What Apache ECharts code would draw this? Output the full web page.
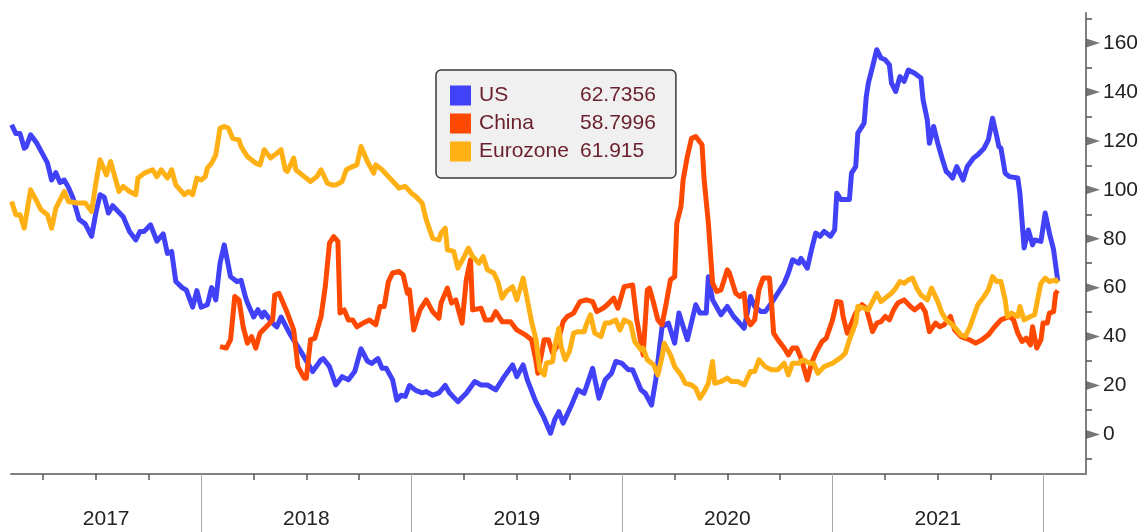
<!DOCTYPE html>
<html>
<head>
<meta charset="utf-8">
<script src="https://cdn.jsdelivr.net/npm/echarts@6/dist/echarts.min.js"></script>
<style>
  html, body { margin: 0; padding: 0; background: #fff; }
  #container { width: 1147px; height: 532px; }
</style>
</head>
<body>
<div id="container"></div>
<script>
var dom = document.getElementById("container");
var myChart = echarts.init(dom);

// x in decimal years, y index value
var seriesNames = ['US', 'China', 'Eurozone'];
var legendValues = ['62.7356', '58.7996', '61.915'];

var usData = [
    [2017.10, 126.6], [2017.12, 123], [2017.14, 123], [2017.16, 117], [2017.17, 117.7], [2017.19, 122.5], [2017.22, 119],
    [2017.27, 111], [2017.29, 104], [2017.31, 107], [2017.33, 103], [2017.35, 104], [2017.37, 101], [2017.39, 97],
    [2017.42, 88], [2017.45, 86], [2017.48, 81], [2017.50, 90.5], [2017.52, 98], [2017.54, 97], [2017.56, 90.5],
    [2017.58, 93.5], [2017.63, 89], [2017.66, 83], [2017.69, 79.5], [2017.71, 83], [2017.73, 83], [2017.76, 85.7],
    [2017.79, 79], [2017.82, 82], [2017.84, 74], [2017.86, 74.8], [2017.88, 62.5], [2017.91, 60], [2017.93, 59],
    [2017.96, 52], [2017.98, 58.8], [2018.00, 52], [2018.03, 53], [2018.05, 60], [2018.07, 55], [2018.09, 70],
    [2018.11, 77.5], [2018.14, 64.5], [2018.17, 62.5], [2018.19, 63], [2018.21, 56.4], [2018.22, 53.8], [2018.25, 48],
    [2018.27, 51], [2018.29, 48], [2018.30, 50], [2018.34, 45.5], [2018.36, 44], [2018.38, 48], [2018.42, 41.4],
    [2018.48, 33], [2018.53, 25.7], [2018.57, 30.5], [2018.58, 31], [2018.61, 27.7], [2018.64, 20.2], [2018.67, 23.6],
    [2018.70, 22.3], [2018.73, 25.7], [2018.76, 35], [2018.79, 30], [2018.81, 29], [2018.84, 31], [2018.86, 27],
    [2018.88, 27], [2018.91, 22.3], [2018.93, 14], [2018.95, 16], [2018.97, 15.5], [2018.99, 20], [2019.02, 18],
    [2019.05, 17], [2019.07, 17.5], [2019.10, 16], [2019.13, 17], [2019.16, 20], [2019.18, 17], [2019.22, 13.4],
    [2019.26, 16.8], [2019.30, 21.6], [2019.33, 20.2], [2019.36, 20.2], [2019.40, 18.2], [2019.44, 23.6], [2019.48, 28.4],
    [2019.50, 23.6], [2019.53, 28.4], [2019.55, 22.3], [2019.59, 13.4], [2019.63, 6.6], [2019.66, 0.5], [2019.68, 6],
    [2019.70, 9.3], [2019.72, 4.6], [2019.76, 12], [2019.79, 18.2], [2019.82, 16.8], [2019.86, 27], [2019.89, 14.8],
    [2019.92, 22.3], [2019.95, 25], [2019.97, 29.8], [2020.00, 29], [2020.03, 26.4], [2020.05, 26.4], [2020.09, 18.2],
    [2020.11, 16.8], [2020.14, 12], [2020.16, 22.3], [2020.19, 44], [2020.22, 45.5], [2020.25, 37.3], [2020.27, 49.6],
    [2020.31, 38.7], [2020.35, 53], [2020.37, 49.6], [2020.40, 49.6], [2020.41, 64.5], [2020.43, 55], [2020.47, 48.9],
    [2020.50, 52.3], [2020.53, 48.2], [2020.58, 43.4], [2020.61, 56.4], [2020.63, 52.3], [2020.66, 50.2], [2020.68, 50.2],
    [2020.71, 53.7], [2020.73, 56.4], [2020.77, 61.8], [2020.79, 66], [2020.81, 71.4], [2020.84, 70], [2020.85, 72],
    [2020.88, 68], [2020.90, 75.5], [2020.92, 82.3], [2020.94, 81], [2020.96, 83], [2020.99, 81], [2021.01, 83.6],
    [2021.02, 98.6], [2021.04, 96], [2021.08, 96], [2021.09, 106.8], [2021.11, 109.5], [2021.12, 123.2], [2021.15, 127.3],
    [2021.16, 138], [2021.17, 143.6], [2021.19, 150.4], [2021.21, 157.3], [2021.23, 153.9], [2021.25, 153.2], [2021.27, 151.1],
    [2021.28, 143.6], [2021.30, 140.2], [2021.32, 146.3], [2021.34, 144.3], [2021.36, 149], [2021.39, 147.7], [2021.42, 145.7],
    [2021.43, 136.8], [2021.45, 128.6], [2021.46, 119], [2021.48, 125.9], [2021.50, 119], [2021.52, 113], [2021.54, 107.5],
    [2021.55, 106.8], [2021.57, 104.8], [2021.59, 109.5], [2021.62, 104], [2021.64, 109.5], [2021.67, 113], [2021.69, 114.3],
    [2021.72, 117], [2021.74, 120.4], [2021.76, 129.3], [2021.78, 121.8], [2021.79, 117.7], [2021.80, 117], [2021.82, 106.8],
    [2021.84, 105.4], [2021.88, 104.8], [2021.89, 98.6], [2021.91, 76.2], [2021.93, 83.6], [2021.95, 77.5], [2021.96, 79.5],
    [2021.99, 78.9], [2022.01, 90.5], [2022.03, 82.3], [2022.05, 75.5], [2022.07, 62.7]
];

var chinaData = [
    [2018.09, 35.9], [2018.12, 35.3], [2018.14, 38.7], [2018.16, 56.4], [2018.18, 55], [2018.20, 44], [2018.22, 37.3],
    [2018.24, 40], [2018.26, 35.3], [2018.28, 41.4], [2018.31, 44], [2018.34, 46.8], [2018.35, 57], [2018.37, 57.7],
    [2018.39, 53.7], [2018.41, 49.6], [2018.44, 42.7], [2018.46, 27.7], [2018.49, 23], [2018.50, 23], [2018.52, 38.7],
    [2018.54, 39.3], [2018.57, 48.2], [2018.59, 60.4], [2018.61, 78.2], [2018.63, 80.9], [2018.65, 78.9], [2018.66, 49.6],
    [2018.68, 50.9], [2018.70, 46.8], [2018.72, 46.8], [2018.74, 44], [2018.77, 45.5], [2018.80, 46.8], [2018.83, 44.8],
    [2018.85, 52.3], [2018.87, 52.3], [2018.89, 62.5], [2018.91, 66], [2018.94, 66.6], [2018.96, 65.2], [2018.98, 57.7],
    [2018.99, 59.1], [2019.01, 42.7], [2019.04, 50.9], [2019.07, 55], [2019.10, 50.2], [2019.13, 47.5], [2019.14, 53.7],
    [2019.17, 59.8], [2019.19, 53.7], [2019.21, 55], [2019.24, 45.5], [2019.26, 63.2], [2019.28, 71.4], [2019.29, 50.9],
    [2019.33, 51.6], [2019.35, 46.8], [2019.38, 46.8], [2019.40, 50.2], [2019.43, 46.1], [2019.47, 46.1], [2019.50, 42.7],
    [2019.54, 40.7], [2019.57, 38.7], [2019.59, 30.5], [2019.60, 25], [2019.63, 38.7], [2019.65, 38.7], [2019.67, 33.2],
    [2019.69, 35.9], [2019.72, 46.1], [2019.74, 48.2], [2019.77, 49.6], [2019.80, 54.3], [2019.83, 55], [2019.86, 54.3],
    [2019.88, 50.2], [2019.91, 51.6], [2019.93, 53], [2019.96, 55.7], [2019.98, 51.6], [2020.01, 60.4], [2020.05, 61.1],
    [2020.07, 46.8], [2020.09, 37.3], [2020.10, 32.5], [2020.12, 59.1], [2020.13, 59.8], [2020.15, 53.7], [2020.17, 46.8],
    [2020.19, 44.8], [2020.21, 53.7], [2020.23, 63.2], [2020.25, 64.5], [2020.26, 86.4], [2020.28, 93.2], [2020.29, 104],
    [2020.31, 113.6], [2020.33, 121.1], [2020.35, 121.8], [2020.38, 118.4], [2020.39, 104], [2020.41, 86.4], [2020.43, 61.8],
    [2020.45, 58.4], [2020.47, 59.1], [2020.50, 67.3], [2020.51, 66], [2020.54, 57.7], [2020.56, 56.4], [2020.58, 57.7],
    [2020.59, 48.2], [2020.61, 44.8], [2020.63, 46.8], [2020.65, 59.1], [2020.67, 63.9], [2020.70, 63.9], [2020.71, 53.7],
    [2020.72, 41.4], [2020.74, 38.7], [2020.77, 35.3], [2020.79, 32.5], [2020.81, 35.3], [2020.83, 35.3], [2020.85, 31.2],
    [2020.88, 22.3], [2020.90, 29.1], [2020.92, 33.2], [2020.95, 38], [2020.97, 39.3], [2021.00, 46.8], [2021.02, 54.3],
    [2021.04, 54], [2021.05, 48.2], [2021.07, 41.4], [2021.09, 45.5], [2021.11, 49.6], [2021.14, 53], [2021.16, 51.6],
    [2021.19, 42], [2021.21, 45.5], [2021.23, 46.1], [2021.25, 48.2], [2021.27, 46.8], [2021.29, 50.9], [2021.31, 53.7],
    [2021.34, 55], [2021.37, 52.3], [2021.39, 50.9], [2021.42, 53], [2021.44, 50.2], [2021.46, 42], [2021.49, 45.5],
    [2021.51, 44], [2021.53, 44.8], [2021.56, 48.2], [2021.58, 42.7], [2021.61, 40], [2021.65, 38.7], [2021.68, 37.3],
    [2021.71, 38.7], [2021.74, 40.7], [2021.77, 44], [2021.80, 46.8], [2021.84, 48.2], [2021.86, 46.8], [2021.88, 41.4],
    [2021.90, 38], [2021.92, 39.3], [2021.94, 36.6], [2021.95, 44], [2021.97, 35.3], [2021.99, 38.7], [2022.00, 45.5],
    [2022.02, 45.5], [2022.03, 49.6], [2022.05, 50.2], [2022.06, 57.7], [2022.07, 58.8]
];

var euroData = [
    [2017.10, 95.2], [2017.12, 89.8], [2017.14, 89.8], [2017.16, 84.3], [2017.19, 100], [2017.22, 95.2], [2017.24, 91.8],
    [2017.27, 89.8], [2017.29, 84.3], [2017.31, 92.5], [2017.35, 99.3], [2017.37, 95.2], [2017.41, 94.6], [2017.45, 94.6],
    [2017.48, 91.1], [2017.50, 102.7], [2017.52, 112.3], [2017.55, 106.1], [2017.57, 111.6], [2017.59, 105.4], [2017.61, 99.3],
    [2017.63, 101.4], [2017.66, 99.3], [2017.69, 98], [2017.70, 104.8], [2017.73, 106.8], [2017.77, 108.2], [2017.79, 105.4],
    [2017.81, 108.2], [2017.84, 104.8], [2017.86, 108.2], [2017.88, 102], [2017.92, 98], [2017.94, 99.3], [2017.96, 98],
    [2017.98, 104.8], [2018.00, 104], [2018.02, 105.4], [2018.03, 108.9], [2018.05, 110.9], [2018.07, 114.3], [2018.09, 125.2],
    [2018.11, 125.9], [2018.13, 125.2], [2018.15, 121.1], [2018.18, 120.4], [2018.19, 117.7], [2018.22, 113.6], [2018.26, 110.9],
    [2018.28, 110.2], [2018.30, 116.4], [2018.33, 113], [2018.35, 114.3], [2018.38, 116.4], [2018.40, 108.2], [2018.41, 107.5],
    [2018.44, 113], [2018.45, 108.2], [2018.49, 105.4], [2018.52, 103.4], [2018.55, 105.4], [2018.57, 108.2], [2018.60, 102.7],
    [2018.62, 102], [2018.64, 102], [2018.67, 103.4], [2018.69, 108.2], [2018.72, 109.5], [2018.74, 110.2], [2018.76, 117.7],
    [2018.78, 113.6], [2018.79, 111.6], [2018.82, 106.8], [2018.83, 110.2], [2018.86, 108.2], [2018.89, 105.4], [2018.92, 102.7],
    [2018.94, 100.7], [2018.97, 101.4], [2019.00, 98.6], [2019.02, 97.3], [2019.05, 94.6], [2019.07, 87.7], [2019.10, 80.2],
    [2019.13, 79.5], [2019.14, 82.3], [2019.16, 84.3], [2019.17, 75.5], [2019.20, 74.8], [2019.22, 68], [2019.25, 72.7],
    [2019.27, 76.2], [2019.29, 72.7], [2019.32, 70], [2019.34, 72.7], [2019.36, 67.3], [2019.39, 66], [2019.41, 62.5],
    [2019.43, 55.7], [2019.45, 58.4], [2019.48, 60.4], [2019.50, 55], [2019.53, 63.9], [2019.55, 55], [2019.57, 46.1],
    [2019.59, 39.3], [2019.61, 26.4], [2019.63, 24.3], [2019.64, 29.1], [2019.67, 29.8], [2019.68, 35.9], [2019.70, 43.4],
    [2019.71, 35.9], [2019.73, 30.5], [2019.75, 33.9], [2019.77, 41.4], [2019.79, 42], [2019.82, 42], [2019.83, 44.8],
    [2019.85, 48.9], [2019.87, 41.4], [2019.90, 40], [2019.92, 45.5], [2019.94, 45.5], [2019.97, 46.8], [2019.99, 42.7],
    [2020.01, 46.8], [2020.04, 45.5], [2020.06, 38], [2020.09, 34.6], [2020.10, 35.3], [2020.12, 30.5], [2020.15, 28.4],
    [2020.17, 24.3], [2020.19, 31.8], [2020.20, 37.3], [2020.23, 32.5], [2020.25, 27.7], [2020.28, 24.3], [2020.30, 20.9],
    [2020.33, 20.2], [2020.35, 18.9], [2020.37, 14.8], [2020.39, 17.5], [2020.41, 20.9], [2020.43, 29.8], [2020.44, 20.9],
    [2020.47, 21.6], [2020.50, 23], [2020.52, 21.6], [2020.55, 21.6], [2020.58, 20.2], [2020.61, 25.7], [2020.63, 25.7],
    [2020.65, 30.5], [2020.68, 27.7], [2020.71, 26.4], [2020.74, 26.4], [2020.77, 29.1], [2020.79, 24.3], [2020.81, 29.1],
    [2020.84, 29.1], [2020.86, 30.5], [2020.89, 29.1], [2020.91, 29.1], [2020.93, 25], [2020.96, 27.7], [2021.00, 29.1],
    [2021.04, 31.5], [2021.06, 33.2], [2021.08, 38.7], [2021.11, 45.5], [2021.12, 52.3], [2021.15, 51.6], [2021.17, 50.9],
    [2021.19, 54.3], [2021.21, 57.7], [2021.23, 54.3], [2021.26, 56.4], [2021.28, 57.7], [2021.30, 59.8], [2021.32, 62.5],
    [2021.34, 61.8], [2021.36, 63.2], [2021.38, 63.9], [2021.40, 59.8], [2021.42, 57], [2021.45, 55], [2021.47, 59.8],
    [2021.50, 54.3], [2021.52, 49.6], [2021.54, 46.8], [2021.57, 44.8], [2021.59, 42.7], [2021.61, 40.7], [2021.63, 40],
    [2021.65, 43.4], [2021.67, 48.2], [2021.69, 53], [2021.72, 56.4], [2021.74, 59.1], [2021.76, 64.5], [2021.78, 62.5],
    [2021.80, 62.5], [2021.82, 55], [2021.83, 48.2], [2021.85, 49.6], [2021.88, 48.2], [2021.89, 52.3], [2021.91, 46.8],
    [2021.94, 48.2], [2021.96, 48.9], [2021.98, 57.7], [2021.99, 61.8], [2022.01, 63.9], [2022.03, 62.5], [2022.06, 63.2],
    [2022.07, 61.9]
];

// axis ticks and labels
var xMin = 2017.097, xMax = 2022.204;
var yMin = -16.2, yMax = 172.3;
var yTicks = [0, 20, 40, 60, 80, 100, 120, 140, 160];
var yMinorTicks = [-10, 10, 30, 50, 70, 90, 110, 130, 150, 170];
var quarterTicks = [2017.25, 2017.5, 2017.75, 2018.25, 2018.5, 2018.75, 2019.25, 2019.5, 2019.75,
    2020.25, 2020.5, 2020.75, 2021.25, 2021.5, 2021.75];
var yearBounds = [2018, 2019, 2020, 2021, 2022];
var yearLabels = ['2017', '2018', '2019', '2020', '2021'];
var yearLabelPos = [2017.549, 2018.5, 2019.5, 2020.5, 2021.5];

var colors = ['#4141f8', '#ff4800', '#ffb014'];
var font = "'Liberation Sans', Arial, sans-serif";

var lineSeries = function (name, data, color) {
    return {
        name: name,
        type: 'line',
        data: data,
        showSymbol: false,
        symbol: 'none',
        lineStyle: { color: color, width: 5, join: 'round' },
        itemStyle: { color: color },
        silent: true
    };
};

var option = {
    backgroundColor: '#fff',
    animation: false,
    grid: { left: 11, right: 61, top: 13, bottom: 58 },
    legend: {
        data: seriesNames,
        orient: 'vertical',
        left: 436,
        top: 70,
        selectedMode: false,
        icon: 'rect',
        itemWidth: 21,
        itemHeight: 20,
        itemGap: 7,
        padding: [15, 20, 16, 14],
        backgroundColor: '#f0f0f0',
        borderColor: '#3a3a3a',
        borderWidth: 1.5,
        borderRadius: 5,
        formatter: function (name) {
            var i = seriesNames.indexOf(name);
            return '{n|' + name + '}{v|' + legendValues[i] + '}';
        },
        textStyle: {
            fontFamily: font,
            fontSize: 21,
            color: '#6a1f2c',
            rich: {
                n: { fontFamily: font, fontSize: 21, color: '#6a1f2c', width: 101, padding: [0, 0, 0, 3], lineHeight: 21 },
                v: { fontFamily: font, fontSize: 21, color: '#6a1f2c', lineHeight: 21 }
            }
        }
    },
    xAxis: [
        {
            type: 'value',
            min: xMin,
            max: xMax,
            splitLine: { show: false },
            axisLine: { show: true, onZero: false, lineStyle: { color: '#808080', width: 2 } },
            axisTick: { show: true, customValues: quarterTicks, length: 6, lineStyle: { color: '#555', width: 1.5 } },
            axisLabel: { show: false }
        },
        {
            type: 'value',
            min: xMin,
            max: xMax,
            position: 'bottom',
            splitLine: { show: false },
            axisLine: { show: false, onZero: false },
            axisTick: { show: true, customValues: yearBounds, length: 60, lineStyle: { color: '#a8a8a8', width: 1 } },
            axisLabel: {
                show: true,
                customValues: yearLabelPos,
                margin: 35,
                fontFamily: font,
                fontSize: 21,
                color: '#222',
                formatter: function (v) {
                    for (var i = 0; i < yearLabelPos.length; i++) {
                        if (Math.abs(yearLabelPos[i] - v) < 0.01) return yearLabels[i];
                    }
                    return '';
                }
            }
        }
    ],
    yAxis: [
        {
            type: 'value',
            position: 'right',
            min: yMin,
            max: yMax,
            splitLine: { show: false },
            axisLine: { show: true, onZero: false, lineStyle: { color: '#808080', width: 2 } },
            axisTick: { show: true, inside: false, customValues: yMinorTicks, length: 6, lineStyle: { color: '#555', width: 1.5 } },
            axisLabel: {
                show: true,
                customValues: yTicks,
                margin: 17,
                fontFamily: font,
                fontSize: 21,
                color: '#222'
            }
        }
    ],
    series: [
        lineSeries(seriesNames[0], usData, colors[0]),
        lineSeries(seriesNames[1], chinaData, colors[1]),
        lineSeries(seriesNames[2], euroData, colors[2]),
        {
            // triangle major ticks on the right axis
            name: 'ticks',
            type: 'scatter',
            silent: true,
            clip: false,
            symbol: 'path://M0,0L16,5L0,10Z',
            symbolSize: [14, 9],
            symbolOffset: [7, 0],
            itemStyle: { color: '#555' },
            data: yTicks.map(function (v) { return [xMax, v]; })
        }
    ]
};

if (option && typeof option === "object") {
    myChart.setOption(option, false);
}
</script>
</body>
</html>
